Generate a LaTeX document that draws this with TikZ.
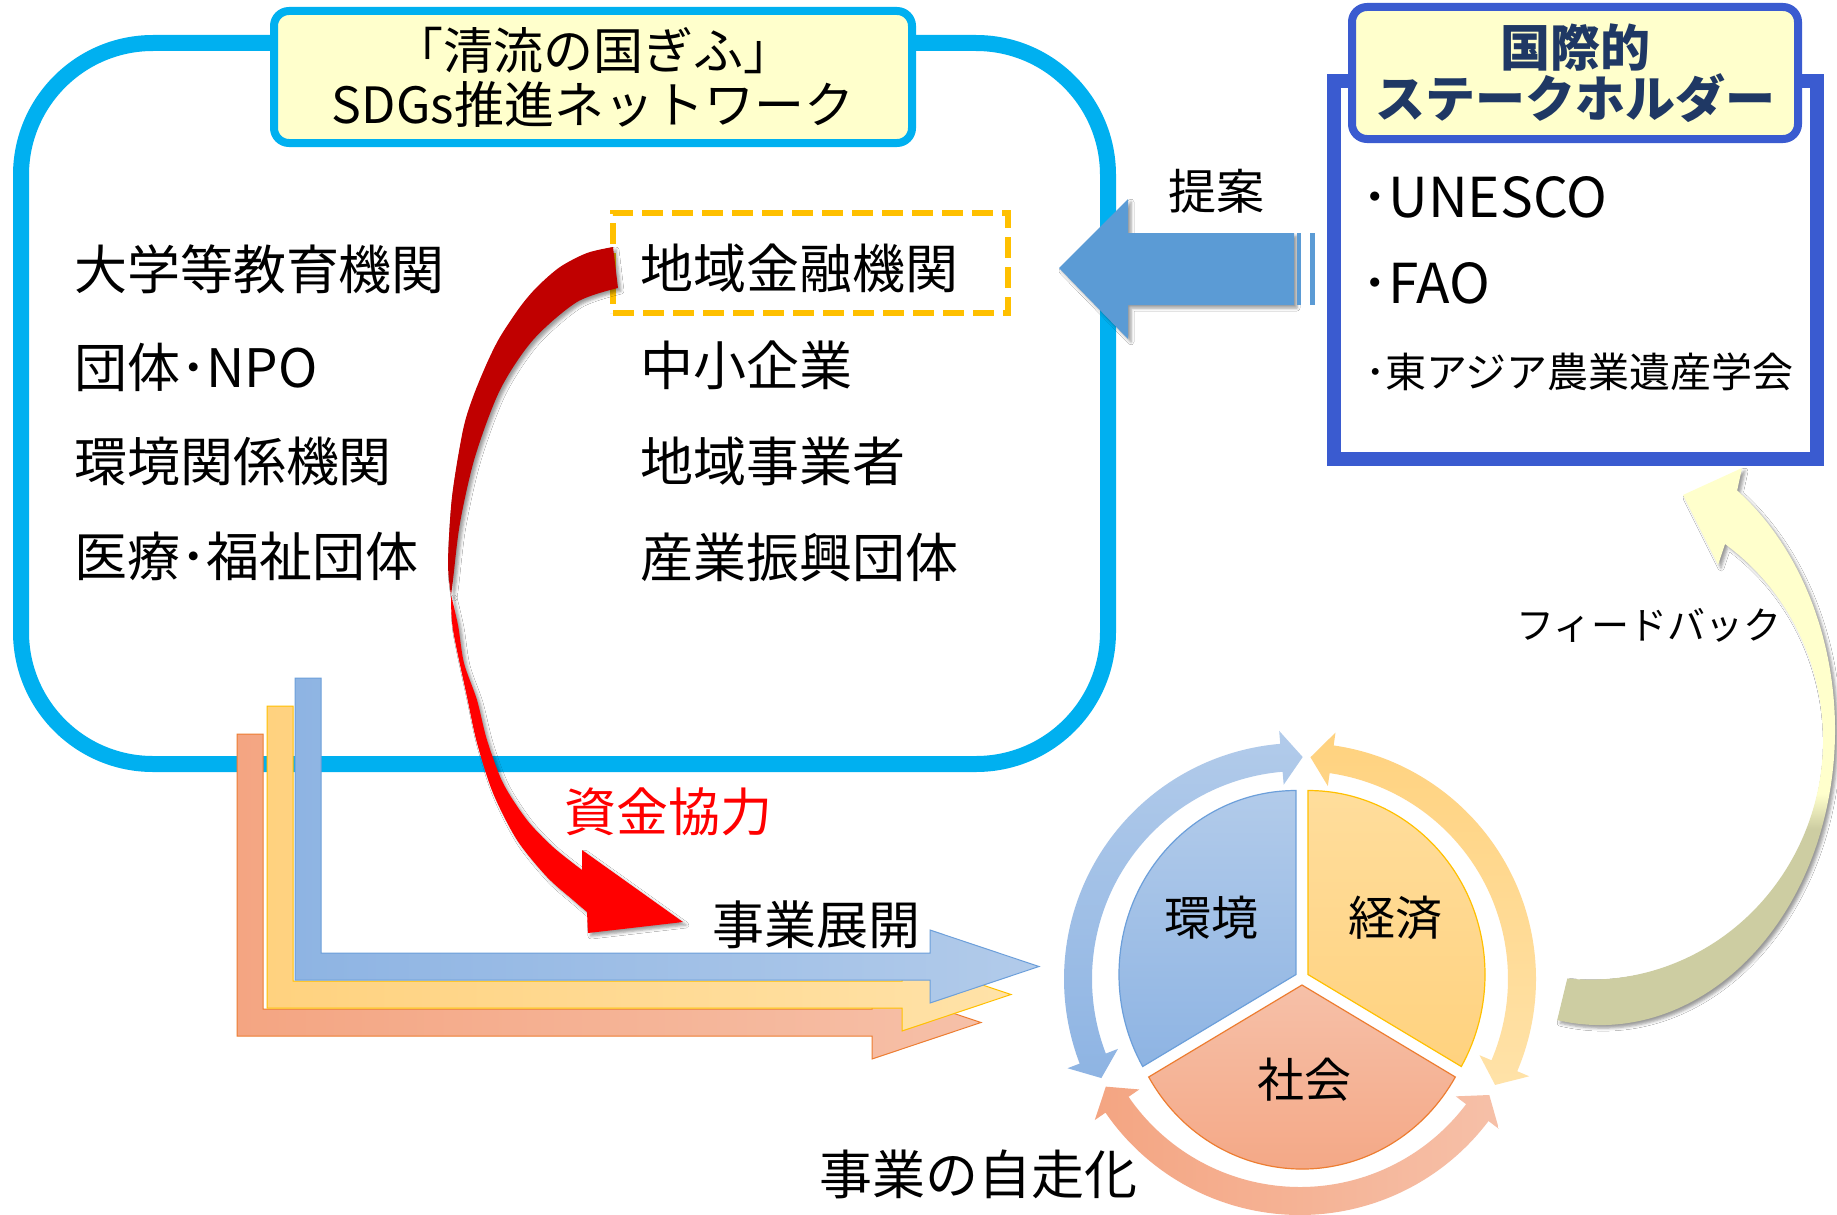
\documentclass[tikz,border=0pt]{standalone}
\usepackage{fontspec}
\setmainfont{Noto Sans CJK JP}
\usetikzlibrary{calc,shadows.blur}
\definecolor{cyanline}{HTML}{00B0F0}
\definecolor{paleyel}{HTML}{FFFFCC}
\definecolor{shblue}{HTML}{3A5BD0}
\definecolor{navytxt}{HTML}{1F3864}
\definecolor{goldline}{HTML}{FFC000}
\definecolor{arrblue}{HTML}{5B9BD5}
\definecolor{darkred}{HTML}{C00000}
\definecolor{fbolive}{HTML}{CDCDA2}
\definecolor{bl1}{HTML}{8EB4E3}\definecolor{bl2}{HTML}{B2CBEA}
\definecolor{ye1}{HTML}{FFD27F}\definecolor{ye2}{HTML}{FFE2A8}
\definecolor{or1}{HTML}{F4A582}\definecolor{or2}{HTML}{F6C0A8}
\definecolor{blE}{HTML}{6C9FDA}\definecolor{yeE}{HTML}{FFC000}\definecolor{orE}{HTML}{ED7D31}
\pgfdeclareverticalshading{fbshade}{100bp}{color(0bp)=(fbolive); color(44bp)=(fbolive); color(47bp)=(paleyel); color(100bp)=(paleyel)}
\newcommand\fsz[1]{\fontsize{#1}{#1}\selectfont}
\newcommand\ringarr[3]{%
  \pgfmathsetmacro\rga{#2+5.5}%
  \pgfmathsetmacro\rgb{#3-5.5}%
  \path[#1] ($(C)+(-#2:222)$) -- ($(C)+(-\rga:249)$) -- ($(C)+(-\rga:236)$)
    arc[start angle=-\rga, end angle=-\rgb, radius=236]
    -- ($(C)+(-\rgb:249)$) -- ($(C)+(-#3:222)$) -- ($(C)+(-\rgb:195)$) -- ($(C)+(-\rgb:208)$)
    arc[start angle=-\rgb, end angle=-\rga, radius=208]
    -- ($(C)+(-\rga:195)$) -- cycle;}
\begin{document}
\begin{tikzpicture}[x=1pt,y=-1pt,
  txt/.style={inner sep=0pt, outer sep=0pt},
  shad/.style={blur shadow={shadow xshift=3pt, shadow yshift=-3pt, shadow blur radius=3pt, shadow opacity=40}},
  larr/.style={line width=1pt},
  piesec/.style={line width=1.2pt}]
\fill[white] (0,0) rectangle (1837,1215);
\useasboundingbox (0,0) rectangle (1837,1215);

% network frame
\node[draw=cyanline, line width=16pt, rounded corners=132pt, minimum width=1087pt, minimum height=721pt, inner sep=0pt] (net) at (564.5,403.5) {};
\node[draw=cyanline, fill=paleyel, line width=8pt, rounded corners=15pt, minimum width=638pt, minimum height=132pt, inner sep=0pt, align=center, font=\fontsize{50}{54}\selectfont] (nettitle) at (593,77) {「清流の国ぎふ」\\SDGs推進ネットワーク};

% member lists
\node[txt, anchor=west, font=\fsz{53}] (l1) at (74,269) {大学等教育機関};
\node[txt, anchor=west, font=\fsz{53}] (l2) at (74,367) {団体･NPO};
\node[txt, anchor=west, font=\fsz{53}] (l3) at (74,461) {環境関係機関};
\node[txt, anchor=west, font=\fsz{53}] (l4) at (74,556) {医療･福祉団体};
\node[draw=goldline, line width=6pt, dash pattern=on 21pt off 9pt, minimum width=395pt, minimum height=100pt, inner sep=0pt] (finbox) at (810.5,263) {};
\node[txt, anchor=west, font=\fsz{53}] (r1) at (640,268) {地域金融機関};
\node[txt, anchor=west, font=\fsz{53}] (r2) at (640,365) {中小企業};
\node[txt, anchor=west, font=\fsz{53}] (r3) at (640,461) {地域事業者};
\node[txt, anchor=west, font=\fsz{53}] (r4) at (640,557) {産業振興団体};

% stakeholders
\node[draw=shblue, line width=14pt, minimum width=483pt, minimum height=378pt, inner sep=0pt] (stake) at (1575.5,270) {};
\node[draw=shblue, fill=paleyel, line width=8pt, rounded corners=15pt, minimum width=446pt, minimum height=132pt, inner sep=0pt, align=center, text=navytxt, font=\fontsize{50}{51}\selectfont\bfseries] (staketitle) at (1575,73) {国際的\\ステークホルダー};
\node[txt, anchor=west, font=\fsz{55}] (s1) at (1361,197) {･UNESCO};
\node[txt, anchor=west, font=\fsz{55}] (s2) at (1361,283) {･FAO};
\node[txt, anchor=west, font=\fsz{41}] (s3) at (1365,372) {･東アジア農業遺産学会};

% proposal arrow
\fill[arrblue, shad] (1059,268) -- (1128,199) -- (1128,233) -- (1294,233) -- (1294,305) -- (1128,305) -- (1128,339) -- cycle;
\fill[arrblue] (1297,233) rectangle (1301,305);
\fill[arrblue] (1310,233) rectangle (1315,305);
\node[txt, font=\fsz{48}] (teian) at (1216,191) {提案};

% three bent arrows
\begin{scope}[shift={(-58,56)}]
\draw[larr, draw=orE, left color=or1, right color=or2] (295,678) -- (321,678) -- (321,953) -- (930,953) -- (930,930) -- (1039,966.5) -- (930,1003) -- (930,980) -- (295,980) -- cycle;
\end{scope}
\begin{scope}[shift={(-28,28)}]
\draw[larr, draw=yeE, left color=ye1, right color=ye2] (295,678) -- (321,678) -- (321,953) -- (930,953) -- (930,930) -- (1039,966.5) -- (930,1003) -- (930,980) -- (295,980) -- cycle;
\end{scope}
\draw[larr, draw=blE, left color=bl1, right color=bl2] (295,678) -- (321,678) -- (321,953) -- (930,953) -- (930,930) -- (1039,966.5) -- (930,1003) -- (930,980) -- (295,980) -- cycle;

% red funding arrow
\fill[darkred, shad] plot[smooth] coordinates {(613,247) (587,253) (560,267) (537,287) (520,307) (500,337) (487,363) (473,397) (463,430) (452,497) (448,563) (451,595)}
  -- plot[smooth] coordinates {(451,595) (453,580) (460,523) (475,457) (500,390) (533,340) (577,302) (618,288)} -- cycle;
\fill[red, shad] plot[smooth] coordinates {(451,595) (453,630) (467,697) (477,743) (493,793) (517,840) (547,877) (573,900) (587,912)}
  -- (588,933) -- (683,922) -- (582,850) -- (582,870)
  -- plot[smooth] coordinates {(582,870) (553,847) (527,820) (503,783) (487,740) (477,700) (464,663) (458,625) (451,595)} -- cycle;

% pie
\draw[piesec, draw=blE, top color=bl2, bottom color=bl1] (1296,974.5) -- ++(-90:177 and 184) arc[start angle=-90, end angle=-210, x radius=177, y radius=184] -- cycle;
\draw[piesec, draw=yeE, top color=ye2!70!ye1, bottom color=ye1] (1308,974.5) -- ++(-90:177 and 184) arc[start angle=-90, end angle=30, x radius=177, y radius=184] -- cycle;
\draw[piesec, draw=orE, top color=or2, bottom color=or1] (1302,985) -- ++(-210:177 and 184) arc[start angle=-210, end angle=-330, x radius=177, y radius=184] -- cycle;

% ring of arrows
\coordinate (C) at (1300,979);
\ringarr{top color=bl2, bottom color=bl1}{89.3}{206.5}
\ringarr{top color=ye1, bottom color=ye2}{331.5}{447.3}
\ringarr{left color=or1, right color=or2}{209}{328.5}

% feedback arrow
\path[shading=fbshade, shad] (1557.2,1020.1) arc[start angle=100.5, end angle=-54.3, x radius=235, y radius=295]
  -- (1742,468) -- (1683,495) -- (1718,565) -- (1725,544)
  arc[start angle=-54.6, end angle=95.6, x radius=233, y radius=240] -- cycle;

% labels
\node[txt, font=\fsz{52}, text=red] (shikin) at (668,812) {資金協力};
\node[txt, font=\fsz{52}] (tenkai) at (816,925) {事業展開};
\node[txt, font=\fsz{53}] (jisou) at (978,1174) {事業の自走化};
\node[txt, font=\fsz{38}] (fb) at (1649,625) {フィードバック};
\node[txt, font=\fsz{47}] (kankyo) at (1211,918) {環境};
\node[txt, font=\fsz{47}] (keizai) at (1395,918) {経済};
\node[txt, font=\fsz{47}] (shakai) at (1304,1080) {社会};
\end{tikzpicture}
\end{document}
